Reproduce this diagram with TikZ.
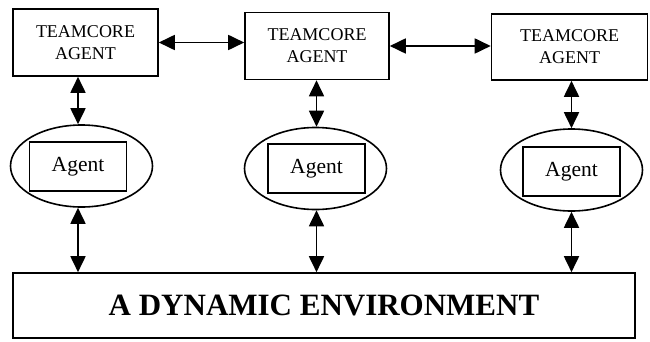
\documentclass[tikz,border=0pt]{standalone}
\usepackage{fontspec}
\setmainfont{Liberation Serif}
\usetikzlibrary{arrows.meta,positioning,shapes.geometric}

\tikzset{
  teambox/.style={draw,line width=1.6pt,inner sep=0pt,align=center,
    font=\fontsize{18}{22}\selectfont},
  agentring/.style={draw,ellipse,line width=1.6pt,inner sep=0pt,
    minimum width=142pt,minimum height=82pt},
  agentbox/.style={draw,line width=1.6pt,inner sep=0pt,
    minimum width=97pt,minimum height=49pt,font=\fontsize{21.5}{24}\selectfont},
  envbox/.style={draw,line width=1.6pt,inner sep=0pt,
    minimum width=622pt,minimum height=65pt,
    font=\fontsize{31}{34}\selectfont\bfseries},
  link/.style={line width=1.8pt,{Triangle[length=16pt,width=15pt]}-{Triangle[length=16pt,width=15pt]}}
}

\begin{document}
\begin{tikzpicture}[x=1pt,y=-1pt]
    \useasboundingbox (0,0) rectangle (650,342);

    % Teamcore layer on top.
    \node[teambox,minimum width=145pt,minimum height=67pt] (team1) at (85.5,42.5)
      {TEAMCORE\\AGENT};
    \node[teambox,minimum width=144pt,minimum height=67pt] (team2) at (317,46)
      {TEAMCORE\\AGENT};
    \node[teambox,minimum width=156pt,minimum height=66pt] (team3) at (569.5,47)
      {TEAMCORE\\AGENT};

    % Agents wrapped in their rings.
    \node[agentring] (ell1) at (81.5,166) {};
    \node[agentring] (ell2) at (315.5,168.5) {};
    \node[agentring] (ell3) at (571.5,170) {};
    \node[agentbox] (ag1) at (78,166.5) {Agent};
    \node[agentbox] (ag2) at (316.5,168.5) {Agent};
    \node[agentbox] (ag3) at (571.5,171.5) {Agent};

    % Shared environment.
    \node[envbox] (env) at (324,305.5) {A DYNAMIC ENVIRONMENT};

    % Links between the teamcore agents.
    \draw[link] (team1.east) -- (team2.west |- team1.east);
    \draw[link] (team2.east) -- (team3.west |- team2.east);

    % Links down to the agents and the environment.
    \foreach \i in {1,2,3} {
      \draw[link] (team\i.south -| ag\i) -- (ell\i.north -| ag\i);
      \draw[link] (ell\i.south -| ag\i) -- (env.north -| ag\i);
    }
\end{tikzpicture}
\end{document}
